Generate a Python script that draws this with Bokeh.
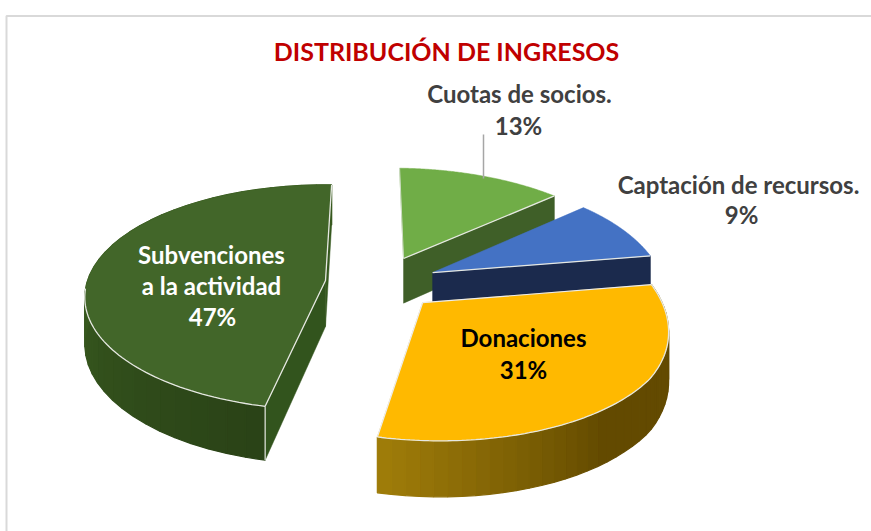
import numpy as np
from bokeh.plotting import figure
from bokeh.models import Range1d
from bokeh.core.properties import value
from bokeh.embed import file_html
from bokeh.resources import INLINE

title_text = "DISTRIBUCIÓN DE INGRESOS"
categories = ["Subvenciones a la actividad", "Cuotas de socios.", "Captación de recursos.", "Donaciones"]
shares = [47, 13, 9, 31]
top_colors = ["#426629", "#70ad47", "#4472c4", "#ffb900"]
offset_x = [0.0, 0.338, 0.455, 0.396]
offset_y = [0.0, -0.206, -0.073, 0.196]

FIRST_ANGLE = 192.5
VX, VY, RX, RY, K, H = 325.0, 280.0, 238.0, 110.0, 0.15, 46.0


def project(wx, wy):
    s = 1.0 / (1.0 - K * wy)
    squeeze = 1.0 - 0.085 * np.maximum(wx - 1.2, 0.0)
    return VX + RX * wx * s * squeeze, VY + RY * wy * s, s


def wedge(i):
    start = FIRST_ANGLE + sum(shares[:i]) * 3.6
    end = start + shares[i] * 3.6
    a = np.radians(np.linspace(start, end, 121))
    wx = offset_x[i] + np.sin(a)
    wy = offset_y[i] - np.cos(a)
    return project(wx, wy), project(np.array([offset_x[i]]), np.array([offset_y[i]])), wy


def mix(c1, c2, t):
    a = [int(c1[j:j + 2], 16) for j in (1, 3, 5)]
    b = [int(c2[j:j + 2], 16) for j in (1, 3, 5)]
    return "#%02x%02x%02x" % tuple(int(round(u + (v - u) * t)) for u, v in zip(a, b))


p = figure(width=871, height=531, x_range=Range1d(0, 871), y_range=Range1d(531, 0),
           output_backend="svg", toolbar_location=None, min_border=0,
           background_fill_color="white", border_fill_color="white")
p.axis.visible = False
p.grid.visible = False
p.outline_line_color = None

# frame
p.line([6, 6, 871], [531, 15.5, 15.5], line_color="#d9d9d9", line_width=2)

EDGE = "#e6e8e2"


def side_slices(px, py, s, c_from, c_to, stops=None):
    xs, ys, cols = [], [], []
    n = len(px) - 1
    for j in range(0, n, 3):
        e = min(j + 3, n)
        xs.append([px[j], px[e], px[e], px[j]])
        ys.append([py[j], py[e], py[e] + H * s[e], py[j] + H * s[j]])
        cols.append(mix(c_from, c_to, (j / n) if stops is None else stops(j / n)))
    p.patches(xs, ys, fill_color=cols, line_color=cols, line_width=1.2)


def cut_face(x0, y0, s0, x1, y1, s1, col):
    p.patch([x0, x1, x1, x0], [y0, y1, y1 + H * s1, y0 + H * s0], fill_color=col, line_color=col, line_width=0.5)


def top_face(i, px, py, cx, cy, wy, arc_from):
    p.patch(np.r_[cx, px], np.r_[cy, py], fill_color=top_colors[i], line_color=top_colors[i], line_width=0.5)
    if arc_from is not None:
        m = wy > arc_from
        p.line(px[m], py[m], line_color=EDGE, line_width=1.3)


# Cuotas de socios
(px, py, s), (cx, cy, cs), wy = wedge(1)
cut_face(cx[0], cy[0], cs[0], px[-1], py[-1], s[-1], "#3f5f28")
top_face(1, px, py, cx[0], cy[0], wy, None)
p.line([cx[0], px[-1]], [cy[0], py[-1]], line_color=EDGE, line_width=1.3)
p.line([cx[0], px[0]], [cy[0], py[0]], line_color="#cfdcc6", line_width=1)

# Captacion
(px, py, s), (cx, cy, cs), wy = wedge(2)
cut_face(cx[0], cy[0], cs[0], px[-1], py[-1], s[-1], "#1b2a4d")
top_face(2, px, py, cx[0], cy[0], wy, None)
p.line([cx[0], px[-1]], [cy[0], py[-1]], line_color=EDGE, line_width=1.3)

# Subvenciones
(px, py, s), (cx, cy, cs), wy = wedge(0)
cut_face(cx[0], cy[0], cs[0], px[-1], py[-1], s[-1], "#36591f")
side_slices(px, py, s, "#2a4317", "#38591f", lambda t: min(t * 2.2, 1))
cut_face(cx[0], cy[0], cs[0], px[0], py[0], s[0], "#32541d")
top_face(0, px, py, cx[0], cy[0], wy, 0.05)
p.line([px[-1], cx[0], px[0]], [py[-1], cy[0], py[0]], line_color=EDGE, line_width=1.3)
p.line([px[0], px[0]], [py[0], py[0] + H * s[0]], line_color=EDGE, line_width=1.2)

# Donaciones
(px, py, s), (cx, cy, cs), wy = wedge(3)
side_slices(px, py, s, "#634a00", "#a27f0a", lambda t: max((t - 0.55) / 0.45, 0))
top_face(3, px, py, cx[0], cy[0], wy, -0.1)
p.line([px[0], cx[0], px[-1]], [py[0], cy[0], py[-1]], line_color="#ececec", line_width=1.2)

# leader line
p.line([483, 483], [134, 178], line_color="#a6a6a6", line_width=1.5)


def label(x, y, txt, col, size):
    p.text([x], [y - 2], text=[txt], text_color=col, text_font=value("Lato"), text_font_style="bold",
           text_font_size=size, text_align="center", text_baseline="middle")


label(446, 52, title_text, "#c00000", "25px")
label(519, 95, "Cuotas de socios.", "#404040", "24px")
label(518, 127, f"{shares[1]}%", "#404040", "24px")
label(738, 186, "Captación de recursos.", "#404040", "24px")
label(741, 216, f"{shares[2]}%", "#404040", "24px")
label(211, 256, "Subvenciones", "#ffffff", "24px")
label(211, 287, "a la actividad", "#ffffff", "24px")
label(212, 318, f"{shares[0]}%", "#ffffff", "24px")
label(523, 339, categories[3], "#000000", "24px")
label(523, 371, f"{shares[3]}%", "#000000", "24px")

open("out.html", "w").write(file_html(p, INLINE))
